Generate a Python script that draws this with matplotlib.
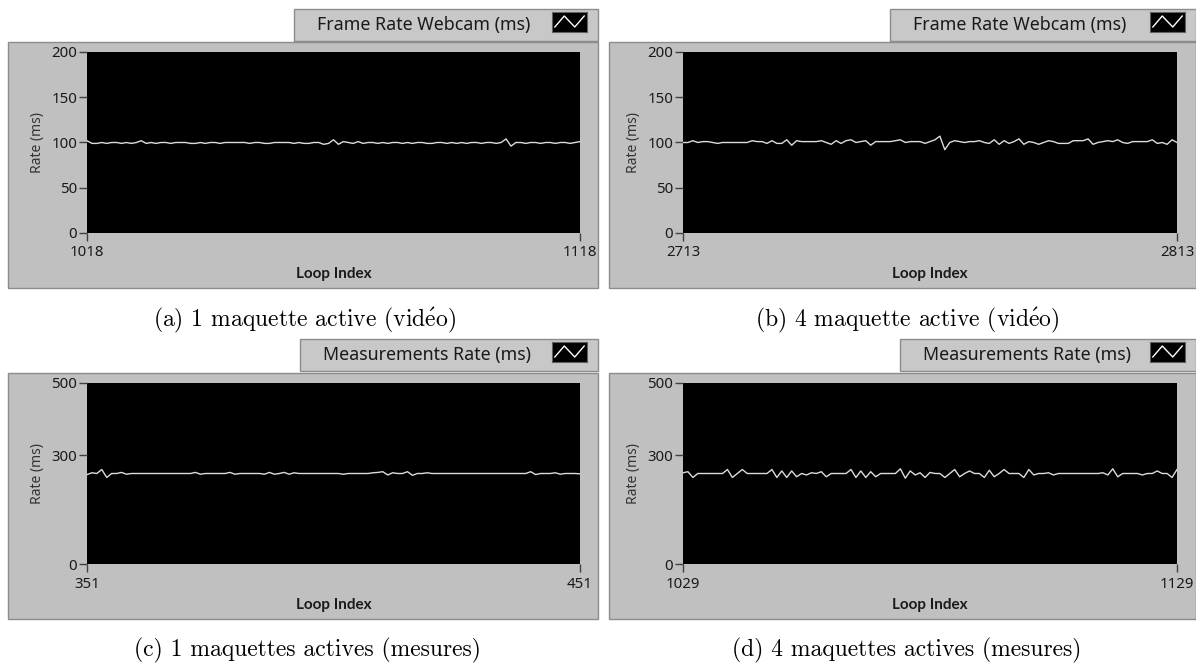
import numpy as np
import matplotlib
matplotlib.use("Agg")
import matplotlib.pyplot as plt
from matplotlib.patches import Rectangle

plt.rcParams["mathtext.fontset"] = "cm"

W, H = 1196, 664

# ---------------- data ----------------
titles = ["Frame Rate Webcam (ms)", "Frame Rate Webcam (ms)",
          "Measurements Rate (ms)", "Measurements Rate (ms)"]
captions = [r"(a) 1 maquette active (vid$\acute{\mathrm{e}}$o)",
            r"(b) 4 maquette active (vid$\acute{\mathrm{e}}$o)",
            "(c) 1 maquettes actives (mesures)", "(d) 4 maquettes actives (mesures)"]
x_starts = [1018, 2713, 351, 1029]
y_maxes = [200, 200, 500, 500]
y_tick_sets = [[0, 50, 100, 150, 200], [0, 50, 100, 150, 200], [0, 300, 500], [0, 300, 500]]

frame_1 = [102, 99, 99, 100, 99, 100, 100, 99, 100, 99,
           100, 102, 99, 100, 99, 100, 100, 99, 100, 100,
           100, 99, 99, 100, 99, 100, 100, 99, 100, 100,
           100, 100, 100, 99, 100, 100, 99, 99, 100, 100,
           100, 100, 99, 100, 99, 99, 100, 100, 98, 99,
           103, 98, 101, 100, 99, 101, 99, 100, 100, 99,
           100, 99, 100, 100, 99, 100, 99, 100, 100, 99,
           99, 100, 100, 99, 100, 99, 100, 99, 100, 100,
           99, 100, 100, 99, 100, 104, 96, 100, 100, 99,
           100, 100, 99, 100, 100, 99, 100, 100, 99, 100,
           101]
frame_4 = [100, 100, 102, 100, 101, 101, 100, 99, 100, 100,
           100, 100, 100, 100, 102, 101, 101, 99, 102, 99,
           99, 103, 97, 102, 101, 101, 101, 101, 102, 100,
           98, 102, 99, 102, 103, 100, 101, 102, 97, 101,
           101, 101, 101, 102, 103, 100, 101, 101, 101, 99,
           101, 103, 107, 92, 100, 102, 101, 100, 101, 101,
           102, 100, 99, 103, 98, 102, 99, 101, 104, 98,
           101, 100, 98, 100, 102, 101, 99, 99, 99, 102,
           102, 102, 104, 98, 100, 101, 102, 101, 103, 100,
           99, 101, 101, 101, 101, 103, 99, 100, 98, 103,
           100]
meas_1 = [247, 252, 250, 261, 239, 250, 250, 253, 248, 250,
          250, 250, 250, 250, 250, 250, 250, 250, 250, 250,
          250, 250, 253, 248, 250, 250, 250, 250, 250, 253,
          248, 250, 250, 250, 250, 250, 248, 253, 248, 250,
          253, 248, 252, 250, 250, 250, 250, 250, 250, 250,
          250, 250, 248, 250, 250, 250, 250, 250, 252, 253,
          255, 246, 252, 250, 250, 255, 245, 250, 250, 252,
          250, 250, 250, 250, 250, 250, 250, 250, 250, 250,
          250, 250, 250, 250, 250, 250, 250, 250, 250, 250,
          255, 247, 250, 250, 250, 252, 248, 250, 250, 250,
          249]
meas_4 = [252, 255, 239, 250, 250, 250, 250, 250, 250, 261,
          239, 250, 261, 250, 250, 250, 250, 250, 261, 239,
          257, 239, 257, 241, 250, 246, 252, 250, 255, 241,
          250, 250, 250, 250, 261, 239, 257, 239, 255, 241,
          250, 250, 250, 250, 263, 237, 257, 246, 252, 239,
          253, 250, 250, 239, 250, 261, 241, 250, 257, 250,
          250, 239, 259, 241, 250, 261, 250, 250, 250, 239,
          261, 246, 250, 250, 252, 246, 250, 250, 250, 250,
          250, 250, 250, 250, 250, 252, 246, 263, 241, 250,
          250, 250, 250, 246, 250, 250, 257, 250, 250, 239,
          261]
series = [frame_1, frame_4, meas_1, meas_4]

# ---------------- layout (pixels) ----------------
plot_boxes = [(87, 52, 580, 233), (683, 52, 1177, 233),
              (87, 383, 580, 564), (683, 383, 1177, 564)]
panel_boxes = [(8, 42, 598, 288), (609, 42, 1196, 288),
               (8, 373, 598, 619), (609, 373, 1196, 619)]
legend_boxes = [(294, 9, 598, 41), (890, 9, 1196, 41),
                (300, 339, 598, 371), (900, 339, 1196, 371)]
caption_pos = [(305, 320), (907, 320), (307, 650), (907, 650)]

UI_FONT = ["Noto Sans", "DejaVu Sans"]
BOLD_FONT = ["Lato", "DejaVu Sans"]
SERIF = ["cmr10", "DejaVu Serif"]
PANEL = "#c0c0c0"
LEG = "#c8c8c8"
TXT = "#1a1a1a"


def frac(box):
    x0, y0, x1, y1 = box
    return [x0 / W, 1 - y1 / H, (x1 - x0) / W, (y1 - y0) / H]


fig = plt.figure(figsize=(W / 100, H / 100), dpi=100, facecolor="white")

for i in range(4):
    # grey panel
    r = frac(panel_boxes[i])
    fig.add_artist(Rectangle((r[0], r[1]), r[2], r[3], transform=fig.transFigure,
                             facecolor=PANEL, edgecolor="#8c8c8c", lw=1.0, zorder=-5))
    # legend box
    lb = legend_boxes[i]
    r = frac(lb)
    fig.add_artist(Rectangle((r[0], r[1]), r[2], r[3], transform=fig.transFigure,
                             facecolor=LEG, edgecolor="#8c8c8c", lw=1.0, zorder=-5))
    fig.text((lb[0] + 23) / W, 1 - (lb[1] + lb[3]) / 2 / H, titles[i],
             ha="left", va="center", fontsize=12.8, color=TXT, family=UI_FONT)
    # legend glyph
    gx1 = lb[2] - 11
    gax = fig.add_axes(frac((gx1 - 35, lb[1] + 3, gx1, lb[1] + 23)), facecolor="black")
    gax.plot([0.08, 0.35, 0.65, 0.92], [0.25, 0.8, 0.25, 0.8], color="white", lw=1.0)
    gax.set_xlim(0, 1); gax.set_ylim(0, 1)
    gax.set_xticks([]); gax.set_yticks([])
    for s in gax.spines.values():
        s.set_color("#606060"); s.set_linewidth(0.8)

    # main plot
    ax = fig.add_axes(frac(plot_boxes[i]), facecolor="black")
    vals = series[i]
    x = np.arange(x_starts[i], x_starts[i] + len(vals))
    ax.plot(x, vals, color="#dcdcdc", lw=1.0)
    ax.set_xlim(x_starts[i], x_starts[i] + len(vals) - 1)
    ax.set_ylim(0, y_maxes[i])
    ax.set_yticks(y_tick_sets[i])
    ax.set_xticks([x_starts[i], x_starts[i] + len(vals) - 1])
    for s in ax.spines.values():
        s.set_visible(False)
    ax.tick_params(axis="y", direction="out", length=6, width=1, color="#404040",
                   labelsize=10.8, labelcolor=TXT, pad=1)
    ax.tick_params(axis="x", direction="out", length=6, width=1, color="#404040",
                   labelsize=10.8, labelcolor=TXT, pad=3)
    for lab in ax.get_xticklabels() + ax.get_yticklabels():
        lab.set_family(UI_FONT)
    pb = plot_boxes[i]
    pw, ph = pb[2] - pb[0], pb[3] - pb[1]
    ax.set_xlabel("Loop Index", fontsize=11, fontweight="bold", color=TXT, family=BOLD_FONT)
    ax.xaxis.set_label_coords(0.5, -41 / ph)
    ax.xaxis.label.set_va("center")
    ax.set_ylabel("Rate (ms)", fontsize=10, color="#333333", family=UI_FONT)
    ax.yaxis.set_label_coords(-49 / pw, 0.5)
    ax.yaxis.label.set_va("center")

    # caption
    cx, cy = caption_pos[i]
    fig.text(cx / W, 1 - cy / H, captions[i], ha="center", va="center",
             fontsize=17, color="black", family=SERIF)

fig.savefig("out.png", dpi=100, facecolor="white")
